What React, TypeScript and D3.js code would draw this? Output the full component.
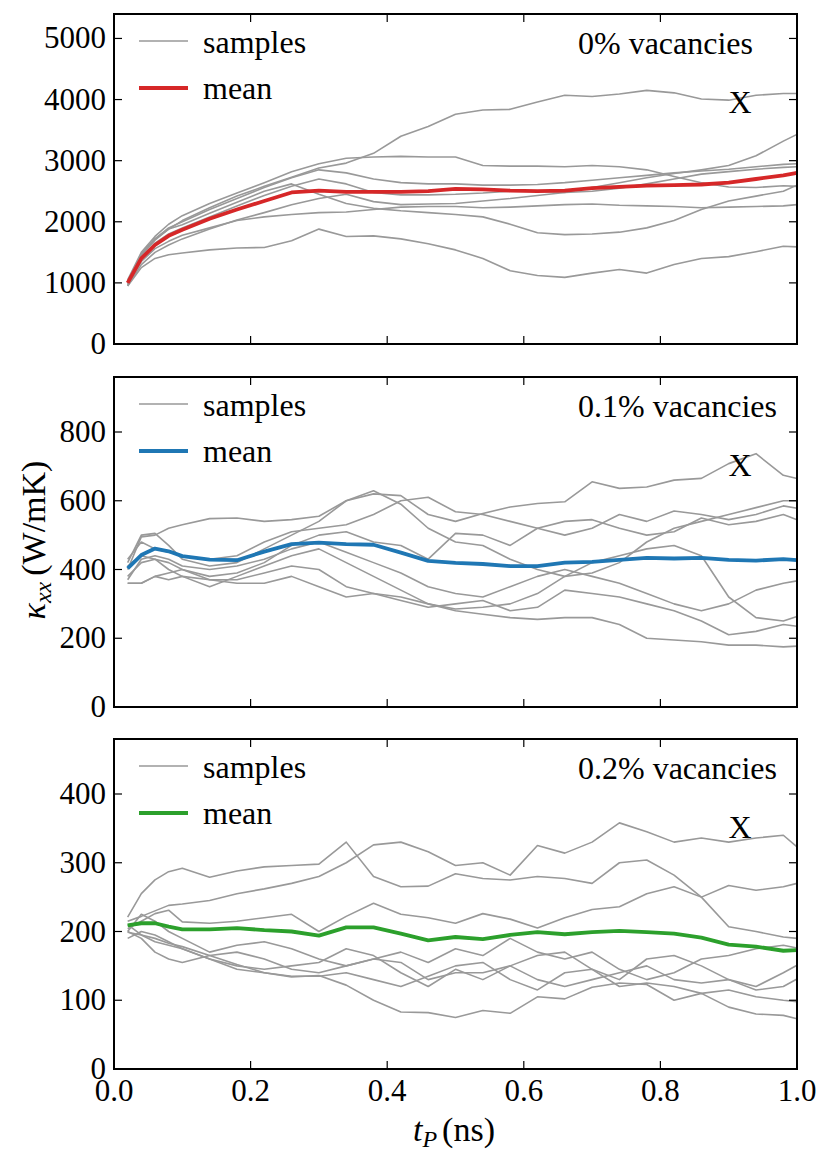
import React from 'react';
import * as d3 from 'd3';

// time grid (ns)
const T = [0.02, 0.04, 0.06, 0.08, 0.10, 0.14, 0.18, 0.22, 0.26, 0.30, 0.34, 0.38, 0.42, 0.46, 0.50, 0.54, 0.58, 0.62, 0.66, 0.70, 0.74, 0.78, 0.82, 0.86, 0.90, 0.94, 0.98, 1.00];

// 0% vacancies
const samples0 = [
  [1000, 1450, 1700, 1880, 2020, 2230, 2420, 2580, 2730, 2880, 2960, 3120, 3400, 3560, 3760, 3830, 3840, 3960, 4070, 4050, 4090, 4150, 4110, 4010, 3990, 4070, 4100, 4100],
  [1050, 1500, 1760, 1960, 2100, 2300, 2470, 2640, 2820, 2950, 3040, 3060, 3070, 3060, 3060, 2920, 2910, 2910, 2900, 2920, 2900, 2850, 2740, 2640, 2570, 2560, 2590, 2580],
  [1000, 1480, 1720, 1900, 2000, 2200, 2380, 2560, 2720, 2850, 2800, 2700, 2640, 2620, 2620, 2600, 2600, 2610, 2640, 2680, 2720, 2760, 2800, 2830, 2860, 2900, 2940, 2950],
  [980, 1420, 1650, 1800, 1900, 2080, 2260, 2430, 2580, 2700, 2620, 2480, 2440, 2440, 2450, 2470, 2500, 2500, 2480, 2500, 2550, 2620, 2700, 2780, 2820, 2860, 2890, 2900],
  [950, 1300, 1500, 1620, 1720, 1880, 2030, 2150, 2280, 2380, 2450, 2330, 2280, 2290, 2300, 2340, 2380, 2430, 2480, 2560, 2640, 2720, 2790, 2850, 2920, 3080, 3320, 3430],
  [960, 1350, 1560, 1680, 1780, 1900, 2020, 2080, 2120, 2150, 2160, 2200, 2240, 2250, 2250, 2230, 2240, 2260, 2280, 2290, 2270, 2260, 2250, 2230, 2240, 2250, 2260, 2280],
  [1020, 1460, 1720, 1880, 1950, 2140, 2320, 2500, 2620, 2450, 2300, 2220, 2180, 2150, 2120, 2080, 1960, 1820, 1790, 1800, 1830, 1900, 2020, 2200, 2340, 2420, 2500, 2600],
  [950, 1250, 1400, 1460, 1490, 1540, 1570, 1580, 1690, 1880, 1760, 1770, 1720, 1640, 1540, 1400, 1200, 1120, 1090, 1160, 1220, 1160, 1300, 1400, 1430, 1510, 1600, 1590],
];
const mean0 = [1000, 1400, 1620, 1770, 1870, 2050, 2200, 2340, 2480, 2510, 2490, 2490, 2490, 2500, 2540, 2530, 2510, 2500, 2510, 2550, 2570, 2590, 2600, 2610, 2640, 2700, 2760, 2800];

// 0.1% vacancies
const samples1 = [
  [420, 500, 505, 470, 430, 410, 420, 460, 500, 540, 600, 620, 615, 560, 540, 563, 582, 592, 597, 655, 636, 640, 660, 665, 708, 737, 674, 665],
  [400, 495, 500, 520, 530, 548, 550, 540, 545, 555, 600, 629, 590, 520, 480, 470, 430, 400, 380, 390, 420, 480, 520, 540, 560, 580, 600, 600],
  [430, 480, 460, 450, 440, 430, 440, 480, 510, 520, 530, 560, 600, 610, 568, 560, 540, 520, 500, 520, 560, 540, 570, 560, 545, 560, 585, 578],
  [380, 420, 430, 420, 400, 380, 390, 420, 470, 500, 510, 480, 470, 430, 505, 500, 470, 520, 540, 545, 520, 500, 510, 550, 530, 540, 560, 545],
  [370, 430, 440, 430, 410, 400, 410, 430, 460, 480, 450, 420, 390, 350, 330, 320, 350, 380, 400, 380, 360, 330, 300, 280, 300, 340, 360, 367],
  [360, 360, 380, 370, 380, 350, 380, 410, 440, 460, 420, 380, 340, 300, 285, 290, 300, 330, 380, 420, 440, 460, 470, 440, 320, 260, 250, 263],
  [410, 440, 430, 400, 380, 370, 370, 390, 410, 400, 350, 330, 310, 290, 300, 310, 280, 290, 340, 330, 320, 300, 280, 250, 210, 220, 240, 235],
  [360, 360, 380, 390, 400, 370, 360, 360, 380, 350, 320, 330, 320, 300, 280, 270, 260, 255, 260, 260, 240, 200, 195, 190, 180, 180, 175, 177],
];
const mean1 = [403, 442, 461, 453, 439, 429, 427, 452, 474, 478, 474, 472, 449, 425, 419, 416, 410, 410, 420, 422, 428, 434, 432, 434, 428, 426, 430, 427];

// 0.2% vacancies
const samples2 = [
  [215, 222, 230, 238, 240, 245, 255, 262, 270, 280, 300, 326, 330, 316, 296, 300, 282, 325, 314, 330, 358, 345, 330, 336, 330, 336, 340, 323],
  [221, 255, 275, 287, 292, 279, 288, 294, 296, 298, 330, 280, 265, 266, 284, 277, 275, 280, 277, 270, 300, 304, 282, 250, 207, 200, 192, 190],
  [204, 215, 226, 231, 214, 212, 215, 220, 225, 200, 222, 241, 225, 220, 212, 226, 218, 205, 220, 232, 236, 255, 265, 250, 267, 260, 265, 270],
  [200, 225, 215, 200, 190, 170, 180, 185, 175, 160, 150, 160, 170, 155, 175, 165, 190, 170, 160, 170, 145, 130, 140, 160, 165, 175, 180, 176],
  [210, 195, 185, 180, 175, 160, 150, 145, 150, 155, 175, 165, 140, 120, 145, 130, 150, 165, 170, 145, 130, 160, 165, 150, 130, 120, 140, 151],
  [200, 190, 170, 160, 155, 165, 170, 160, 145, 140, 150, 160, 155, 130, 140, 140, 150, 130, 120, 130, 140, 150, 130, 125, 130, 115, 120, 131],
  [190, 200, 195, 185, 175, 160, 145, 140, 135, 135, 140, 130, 120, 135, 150, 155, 130, 115, 140, 145, 120, 125, 120, 110, 115, 105, 100, 98],
  [199, 195, 190, 183, 178, 165, 152, 140, 134, 136, 122, 100, 83, 82, 75, 85, 81, 105, 102, 119, 125, 123, 100, 110, 90, 80, 78, 73],
];
const mean2 = [209, 212, 212, 207, 203, 203, 205, 202, 200, 194, 206, 206, 197, 187, 192, 189, 195, 199, 196, 199, 201, 199, 197, 191, 181, 178, 172, 173];

const xTicks = [0, 0.2, 0.4, 0.6, 0.8, 1.0];
const yTicks0 = [0, 1000, 2000, 3000, 4000, 5000];
const yTicks1 = [0, 200, 400, 600, 800];
const yTicks2 = [0, 100, 200, 300, 400];
const yMax = [5400, 960, 480];
const panelLabels = ['0% vacancies', '0.1% vacancies', '0.2% vacancies'];
const meanColors = ['#d62728', '#1f77b4', '#2ca02c'];

const FONT = 'Liberation Serif';
const LEFT = 114;
const RIGHT = 797;
const TOPS = [14, 377, 739];
const PH = 330;
const FS = 31;

const txt = { fontFamily: FONT, fontSize: FS };
const txtL = { fontFamily: FONT, fontSize: 32 };
const txtAxis = { fontFamily: FONT, fontSize: 34 };

function Panel({ idx, samples, mean, yTicks, showX }: any) {
  const top = TOPS[idx];
  const bottom = top + PH;
  const x = d3.scaleLinear().domain([0, 1]).range([LEFT, RIGHT]);
  const y = d3.scaleLinear().domain([0, yMax[idx]]).range([bottom, top]);
  const line = d3.line<number>().x((_, i) => x(T[i])).y((d) => y(d));
  const tl = 8;
  return (
    <g>
      {samples.map((s: number[], i: number) => (
        <path key={i} d={line(s) || ''} fill="none" stroke="#999999" strokeWidth={1.6} strokeLinejoin="round" />
      ))}
      <path d={line(mean) || ''} fill="none" stroke={meanColors[idx]} strokeWidth={3.8} strokeLinejoin="round" />
      <rect x={LEFT} y={top} width={RIGHT - LEFT} height={PH} fill="none" stroke="#000" strokeWidth={2} />
      {yTicks.map((t: number) => (
        <g key={'y' + t}>
          <line x1={LEFT} x2={LEFT + tl} y1={y(t)} y2={y(t)} stroke="#000" strokeWidth={1.2} />
          <line x1={RIGHT - tl} x2={RIGHT} y1={y(t)} y2={y(t)} stroke="#000" strokeWidth={1.2} />
          <text x={LEFT - 8} y={y(t) + 10} textAnchor="end" style={txt}>{t}</text>
        </g>
      ))}
      {xTicks.map((t) => (
        <g key={'x' + t}>
          <line x1={x(t)} x2={x(t)} y1={bottom} y2={bottom - tl} stroke="#000" strokeWidth={1.2} />
          <line x1={x(t)} x2={x(t)} y1={top} y2={top + tl} stroke="#000" strokeWidth={1.2} />
          {showX && (
            <text x={x(t)} y={bottom + 32} textAnchor="middle" style={txt}>{t.toFixed(1)}</text>
          )}
        </g>
      ))}
      {/* legend */}
      <line x1={139} x2={188} y1={top + 27} y2={top + 27} stroke="#999999" strokeWidth={1.6} />
      <text x={203} y={top + 39} style={txtL}>samples</text>
      <line x1={139} x2={188} y1={top + 74} y2={top + 74} stroke={meanColors[idx]} strokeWidth={3.8} />
      <text x={203} y={top + 85} style={txtL}>mean</text>
      <text x={578} y={top + 40} style={txtL}>{panelLabels[idx]}</text>
      <text x={740} y={top + 99} textAnchor="middle" style={{ fontFamily: FONT, fontSize: 32 }}>X</text>
    </g>
  );
}

export default function App() {
  return (
    <svg width={831} height={1165} style={{ position: 'absolute', left: 0, top: 0, background: '#fff' }}>
      <rect x={0} y={0} width={831} height={1165} fill="#fff" />
      <Panel idx={0} samples={samples0} mean={mean0} yTicks={yTicks0} showX={false} />
      <Panel idx={1} samples={samples1} mean={mean1} yTicks={yTicks1} showX={false} />
      <Panel idx={2} samples={samples2} mean={mean2} yTicks={yTicks2} showX={true} />
      <text x={454} y={1141} textAnchor="middle" style={txtAxis}>
        <tspan fontStyle="italic">t</tspan>
        <tspan fontStyle="italic" fontSize={24} dy={6}>P</tspan>
        <tspan dy={-6} dx={5}>(ns)</tspan>
      </text>
      <text transform="translate(45,540) rotate(-90)" textAnchor="middle" style={txtAxis}>
        <tspan fontStyle="italic">κ</tspan>
        <tspan fontStyle="italic" fontSize={24} dy={6}>xx</tspan>
        <tspan dy={-6} dx={6}>(W/mK)</tspan>
      </text>
    </svg>
  );
}
